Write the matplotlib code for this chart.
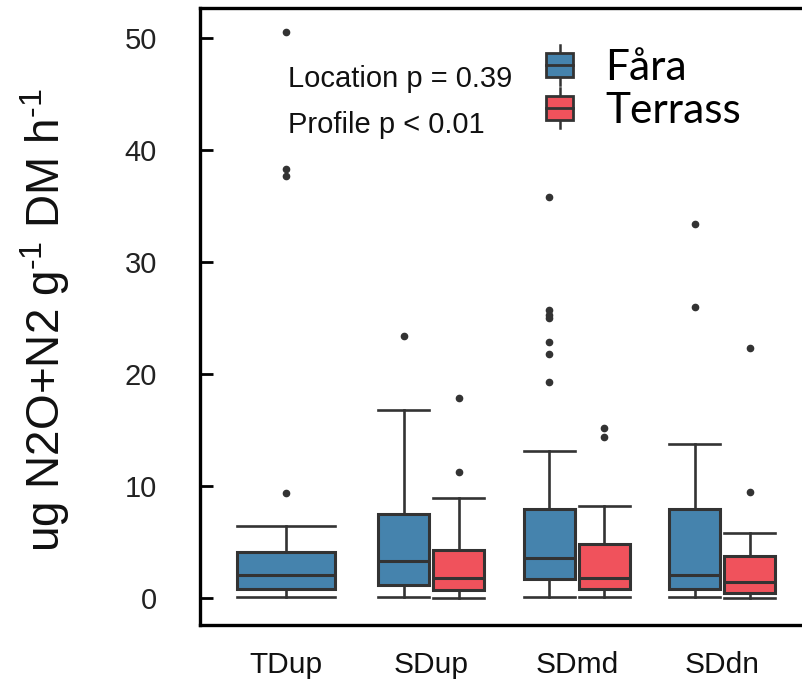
import matplotlib
matplotlib.use('Agg')
import matplotlib.pyplot as plt
from matplotlib.patches import Patch, Rectangle
from matplotlib.lines import Line2D
from matplotlib.legend_handler import HandlerBase

plt.rcParams['mathtext.fontset'] = 'custom'
plt.rcParams['mathtext.rm'] = 'Liberation Sans'
plt.rcParams['mathtext.it'] = 'Liberation Sans'

# categories and box statistics
categories = ['TDup', 'SDup', 'SDmd', 'SDdn']

fara_whislo = [0.1, 0.1, 0.1, 0.1]
fara_q1 = [0.8, 1.2, 1.7, 0.8]
fara_med = [2.1, 3.35, 3.6, 2.1]
fara_q3 = [4.1, 7.5, 8.0, 8.0]
fara_whishi = [6.4, 16.8, 13.1, 13.8]
fara_fliers = [[9.4, 37.7, 38.3, 50.6], [23.4],
               [19.3, 21.8, 22.9, 25.0, 25.3, 25.7, 35.8], [26.0, 33.4]]

terr_cats = ['SDup', 'SDmd', 'SDdn']
terr_whislo = [0.0, 0.1, 0.0]
terr_q1 = [0.7, 0.85, 0.5]
terr_med = [1.8, 1.8, 1.4]
terr_q3 = [4.3, 4.85, 3.8]
terr_whishi = [8.9, 8.2, 5.8]
terr_fliers = [[11.3, 17.9], [14.4, 15.2], [9.5, 22.3]]

blue = '#4583AD'
red = '#F0525C'
dark = '#333333'


def make_stats(whislo, q1, med, q3, whishi, fliers):
    return [dict(whislo=a, q1=b, med=c, q3=d, whishi=e, fliers=f)
            for a, b, c, d, e, f in zip(whislo, q1, med, q3, whishi, fliers)]


fig = plt.figure(figsize=(8.03, 6.8), dpi=100)
W, H = 803, 680
ax = fig.add_axes([200 / W, 1 - 625 / H, 608 / W, 617 / H])

fara_stats = make_stats(fara_whislo, fara_q1, fara_med, fara_q3, fara_whishi, fara_fliers)
terr_stats = make_stats(terr_whislo, terr_q1, terr_med, terr_q3, terr_whishi, terr_fliers)

off = 0.19
bw = 0.35
fara_pos = []
fara_w = []
for i, c in enumerate(categories):
    if c in terr_cats:
        fara_pos.append(i - off)
        fara_w.append(bw)
    else:
        fara_pos.append(i)
        fara_w.append(0.675)
terr_pos = [categories.index(c) + off for c in terr_cats]
terr_w = [bw] * len(terr_cats)

common = dict(patch_artist=True, manage_ticks=False,
              whiskerprops=dict(color=dark, linewidth=1.9),
              capprops=dict(color=dark, linewidth=1.9),
              medianprops=dict(color=dark, linewidth=2.2),
              flierprops=dict(marker='o', markerfacecolor=dark, markeredgecolor=dark,
                              markersize=4.5, linestyle='none'))

ax.bxp(fara_stats, positions=fara_pos, widths=fara_w, capwidths=fara_w,
       boxprops=dict(facecolor=blue, edgecolor=dark, linewidth=2.2), **common)
ax.bxp(terr_stats, positions=terr_pos, widths=terr_w, capwidths=terr_w,
       boxprops=dict(facecolor=red, edgecolor=dark, linewidth=2.2), **common)

ax.set_xlim(-0.59, 3.59)
ax.set_ylim(-2.4, 52.7)
ax.set_xticks(range(len(categories)))
ax.set_xticklabels(categories)
ax.set_yticks([0, 10, 20, 30, 40, 50])

for s in ax.spines.values():
    s.set_linewidth(2.4)
    s.set_color('black')

ax.tick_params(axis='y', direction='in', length=9, width=2, color='black',
               pad=31, labelsize=21, labelcolor='#222222')
ax.tick_params(axis='x', length=0, pad=19, labelsize=21.5, labelcolor='#111111')
for lab in ax.get_xticklabels() + ax.get_yticklabels():
    lab.set_family('Liberation Sans')

ax.set_ylabel(r'ug N2O+N2 g$^{\text{-1}}$ DM h$^{\text{-1}}$', fontsize=33,
              family='Liberation Sans', color='#111111')
ax.yaxis.set_label_coords(-0.211, 0.494)

fig.text(288 / W, 1 - 79 / H, 'Location p = 0.39', fontsize=21, family='Liberation Sans',
         va='center', ha='left', color='#111111')
fig.text(288 / W, 1 - 125 / H, 'Profile p < 0.01', fontsize=21, family='Liberation Sans',
         va='center', ha='left', color='#111111')


class BoxGlyph(HandlerBase):
    def create_artists(self, legend, orig_handle, xdescent, ydescent, width, height,
                       fontsize, trans):
        x0, y0 = -xdescent, -ydescent
        cx = x0 + width / 2
        fc = orig_handle.get_facecolor()
        stem = Line2D([cx, cx], [y0 - height * 0.35, y0 + height * 1.35],
                      color=dark, linewidth=1.8, transform=trans)
        box = Rectangle((x0, y0), width, height, facecolor=fc, edgecolor=dark,
                        linewidth=2.0, transform=trans)
        med = Line2D([x0, x0 + width], [y0 + height / 2] * 2, color=dark,
                     linewidth=2.0, transform=trans)
        return [stem, box, med]


handles = [Patch(facecolor=blue, label='Fåra'), Patch(facecolor=red, label='Terrass')]
fig.legend(handles=handles, loc='upper left', bbox_to_anchor=(546 / W, 1 - 49 / H),
           frameon=False, prop=dict(family='Lato', size=30.5),
           handler_map={Patch: BoxGlyph()}, handlelength=0.64, handleheight=0.47,
           handletextpad=0.75, labelspacing=0.12, borderpad=0, borderaxespad=0)

fig.savefig('out.png', dpi=100)
